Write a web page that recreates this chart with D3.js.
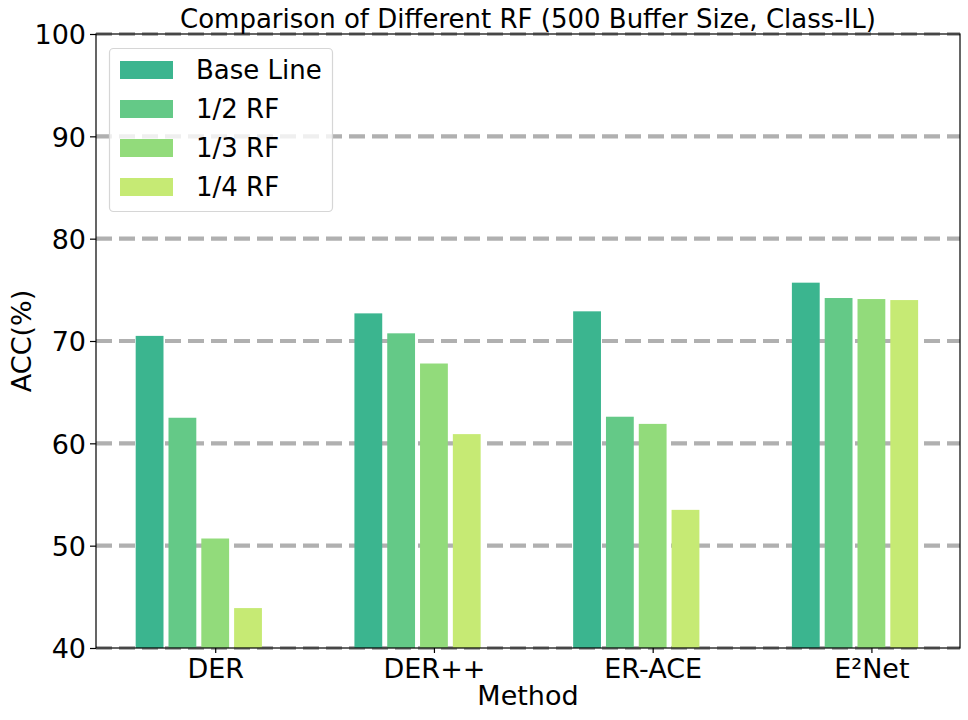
<!DOCTYPE html>
<html>
<head>
<meta charset="utf-8">
<script src="https://cdn.jsdelivr.net/npm/d3@7"></script>
<style>
  body { margin: 0; background: #fff; }
  text { font-family: "DejaVu Sans", sans-serif; fill: #000; }
</style>
</head>
<body>
<div id="chart"></div>
<script>
// data
var methods = ["DER", "DER++", "ER-ACE", "E\u00b2Net"];
var seriesNames = ["Base Line", "1/2 RF", "1/3 RF", "1/4 RF"];
var baseLine = [70.5, 72.7, 72.9, 75.7];
var halfRF = [62.5, 70.75, 62.6, 74.2];
var thirdRF = [50.7, 67.8, 61.9, 74.1];
var quarterRF = [43.9, 60.9, 53.5, 74.0];
var yTicks = [40, 50, 60, 70, 80, 90, 100];
var colors = ["#3bb58f", "#64c987", "#92db7b", "#c6ea74"];

function init() {
    var w = 968, h = 720;
    var left = 96, right = 960, top = 34, bottom = 648;
    var barW = 0.15; // bar width in category units

    var series = [baseLine, halfRF, thirdRF, quarterRF];

    var svg = d3.select("#chart").append("svg")
        .attr("width", w)
        .attr("height", h);

    var xScale = d3.scaleLinear()
        .domain([-0.545, 3.405])
        .range([left, right]);

    var yScale = d3.scaleLinear()
        .domain([40, 100])
        .range([bottom, top]);

    // dashed grid, behind the bars
    svg.append("g")
        .selectAll("line")
        .data(yTicks)
        .enter().append("line")
        .attr("x1", left).attr("x2", right)
        .attr("y1", function (d) { return yScale(d); })
        .attr("y2", function (d) { return yScale(d); })
        .attr("stroke", "#b0b0b0")
        .attr("stroke-width", 4.2)
        .attr("stroke-dasharray", "16,7");

    // bars
    var px = xScale(barW) - xScale(0);
    var vis = px - 5;
    series.forEach(function (vals, j) {
        svg.append("g")
            .selectAll("rect")
            .data(vals)
            .enter().append("rect")
            .attr("x", function (d, i) { return xScale(i + (j - 2) * barW) - vis / 2; })
            .attr("y", function (d) { return yScale(d); })
            .attr("width", vis)
            .attr("height", function (d) { return yScale(40) - yScale(d); })
            .attr("fill", colors[j]);
    });

    // axes
    var yAxis = d3.axisLeft(yScale)
        .tickValues(yTicks)
        .tickSize(6)
        .tickPadding(4);
    var gy = svg.append("g")
        .attr("transform", "translate(" + left + ",0)")
        .call(yAxis);
    gy.select(".domain").remove();
    gy.selectAll("text").style("font-size", "27px").attr("dy", "0.36em");
    gy.selectAll("line").attr("stroke-width", 1.2);

    var xAxis = d3.axisBottom(xScale)
        .tickValues([0, 1, 2, 3])
        .tickFormat(function (d) { return methods[d]; })
        .tickSize(5)
        .tickPadding(6);
    var gx = svg.append("g")
        .attr("transform", "translate(0," + bottom + ")")
        .call(xAxis);
    gx.select(".domain").remove();
    gx.selectAll("text").style("font-size", "27px");
    gx.selectAll("line").attr("stroke-width", 1.2);

    // frame
    svg.append("rect")
        .attr("x", left).attr("y", top)
        .attr("width", right - left).attr("height", bottom - top)
        .attr("fill", "none")
        .attr("stroke", "#000")
        .attr("stroke-width", 1.2);

    // titles
    svg.append("text")
        .attr("x", (left + right) / 2).attr("y", 28)
        .attr("text-anchor", "middle")
        .style("font-size", "26px")
        .text("Comparison of Different RF (500 Buffer Size, Class-IL)");

    svg.append("text")
        .attr("x", (left + right) / 2).attr("y", 705)
        .attr("text-anchor", "middle")
        .style("font-size", "27px")
        .text("Method");

    svg.append("text")
        .attr("transform", "translate(31," + ((top + bottom) / 2) + ") rotate(-90)")
        .attr("text-anchor", "middle")
        .style("font-size", "27px")
        .text("ACC(%)");

    // legend
    var lg = svg.append("g");
    lg.append("rect")
        .attr("x", 109.5).attr("y", 48.5)
        .attr("width", 223).attr("height", 163)
        .attr("rx", 4)
        .attr("fill", "#fff").attr("fill-opacity", 0.8)
        .attr("stroke", "#d6d6d6").attr("stroke-width", 1.2);
    var items = lg.selectAll("g.item")
        .data(seriesNames)
        .enter().append("g")
        .attr("transform", function (d, i) { return "translate(0," + (70 + i * 39) + ")"; });
    items.append("rect")
        .attr("x", 120).attr("y", -9)
        .attr("width", 53).attr("height", 18)
        .attr("fill", function (d, i) { return colors[i]; });
    items.append("text")
        .attr("x", 196).attr("y", 0)
        .attr("dy", "0.36em")
        .style("font-size", "26px")
        .text(function (d) { return d; });
}

window.onload = init;
</script>
</body>
</html>
